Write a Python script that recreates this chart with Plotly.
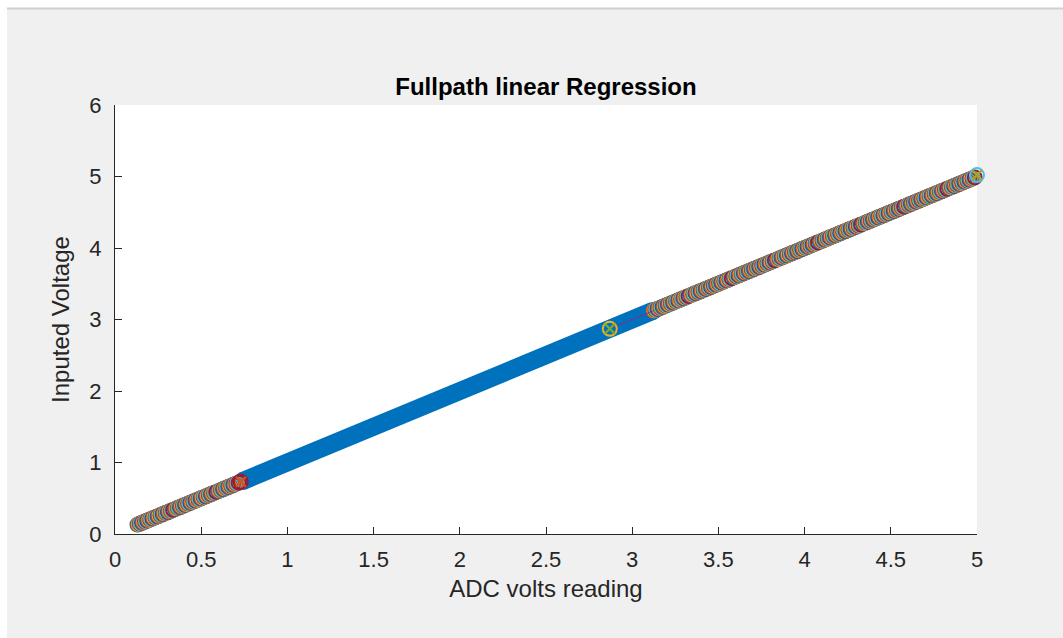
import plotly.graph_objects as go

# ---- data ----
low_x = [0.13, 0.16, 0.19, 0.22, 0.25, 0.28, 0.31, 0.35, 0.38, 0.41,
         0.44, 0.47, 0.50, 0.53, 0.56, 0.60, 0.63, 0.66, 0.69]
low_y = [0.13, 0.16, 0.19, 0.22, 0.25, 0.28, 0.31, 0.35, 0.38, 0.41,
         0.44, 0.47, 0.50, 0.53, 0.56, 0.60, 0.63, 0.66, 0.69]

high_x = [3.12, 3.15, 3.18, 3.21, 3.24, 3.27, 3.30, 3.34, 3.37, 3.40,
          3.43, 3.46, 3.49, 3.52, 3.55, 3.59, 3.62, 3.65, 3.68, 3.71,
          3.74, 3.77, 3.80, 3.84, 3.87, 3.90, 3.93, 3.96, 3.99, 4.02,
          4.05, 4.09, 4.12, 4.15, 4.18, 4.21, 4.24, 4.27, 4.30, 4.34,
          4.37, 4.40, 4.43, 4.46, 4.49, 4.52, 4.55, 4.59, 4.62, 4.65,
          4.68, 4.71, 4.74, 4.77, 4.80, 4.84, 4.87, 4.90, 4.93, 4.96]
high_y = [3.12, 3.15, 3.18, 3.21, 3.24, 3.27, 3.30, 3.34, 3.37, 3.40,
          3.43, 3.46, 3.49, 3.52, 3.55, 3.59, 3.62, 3.65, 3.68, 3.71,
          3.74, 3.77, 3.80, 3.84, 3.87, 3.90, 3.93, 3.96, 3.99, 4.02,
          4.05, 4.09, 4.12, 4.15, 4.18, 4.21, 4.24, 4.27, 4.30, 4.34,
          4.37, 4.40, 4.43, 4.46, 4.49, 4.52, 4.55, 4.59, 4.62, 4.65,
          4.68, 4.71, 4.74, 4.77, 4.80, 4.84, 4.87, 4.90, 4.93, 4.96]

# the seven coloured series are slightly shifted from each other
series_shift = [0.000, 0.0045, 0.009, 0.0135, 0.018, 0.0225, 0.027]

band_x = [0.74, 3.12]
band_y = [0.74, 3.12]

link_x = [2.87, 3.12]
link_y = [2.87, 3.12]

mark1_x = [0.73]
mark1_y = [0.73]
mark2_x = [2.87]
mark2_y = [2.87]
mark3_x = [5.00]
mark3_y = [5.02]

x_ticks = [0, 0.5, 1, 1.5, 2, 2.5, 3, 3.5, 4, 4.5, 5]
y_ticks = [0, 1, 2, 3, 4, 5, 6]

TITLE = "Fullpath linear Regression"
XLABEL = "ADC volts reading"
YLABEL = "Inputed Voltage"

# ---- style ----
MATLAB = ["#0072BD", "#D95319", "#EDB120", "#7E2F8E", "#77AC30", "#4DBEEE", "#A2142F"]
W, H = 1063, 638
ML, MR, MT, MB = 115, 86, 105, 104
PW, PH = W - ML - MR, H - MT - MB
FONT = "Liberation Sans, Arial, Helvetica, sans-serif"
AX = "#262626"


def px2x(px):
    return (px - ML) / PW


def py2y(py):
    return (H - MB - py) / PH


fig = go.Figure()

# thick blue band (rounded ends)
fig.add_trace(go.Scatter(x=band_x, y=band_y, mode="lines+markers",
                         line=dict(color="#0072BD", width=18),
                         marker=dict(symbol="circle", size=18, color="#0072BD",
                                     line=dict(width=0)),
                         hoverinfo="skip", showlegend=False, cliponaxis=False))


# circles: each position carries the seven coloured series
def circles(xs, ys):
    px, py, cols = [], [], []
    for xv, yv in zip(xs, ys):
        for k, s in enumerate(series_shift):
            px.append(xv + s)
            py.append(yv + s)
            cols.append(MATLAB[k])
    fig.add_trace(go.Scatter(x=px, y=py, mode="markers",
                             marker=dict(symbol="circle-open", size=14, color=cols,
                                         line=dict(width=1.8)),
                             showlegend=False, cliponaxis=False))


circles(low_x, low_y)
circles(high_x, high_y)

# thin purple link
fig.add_trace(go.Scatter(x=link_x, y=link_y, mode="lines",
                         line=dict(color="#7E2F8E", width=1), showlegend=False))


def special(xs, ys, ccol, xcol):
    fig.add_trace(go.Scatter(x=xs, y=ys, mode="markers",
                             marker=dict(symbol="circle-open", size=14, color=ccol,
                                         line=dict(width=2)), showlegend=False,
                             cliponaxis=False))
    fig.add_trace(go.Scatter(x=xs, y=ys, mode="markers",
                             marker=dict(symbol="x-thin-open", size=10, color=xcol,
                                         line=dict(width=2.2)), showlegend=False,
                             cliponaxis=False))


special(mark1_x, mark1_y, "#A2142F", "#D95319")
special(mark2_x, mark2_y, "#EDB120", "#77AC30")
special(mark3_x, mark3_y, "#4DBEEE", "#A8A820")

axis_common = dict(showline=True, linecolor=AX, linewidth=1, ticks="inside",
                   ticklen=7, tickcolor=AX, tickwidth=1, showgrid=False,
                   zeroline=False, mirror=False,
                   tickfont=dict(family=FONT, size=22, color=AX))

fig.update_layout(
    width=W, height=H,
    margin=dict(l=ML, r=MR, t=MT, b=MB, pad=0),
    paper_bgcolor="#f0f0f0", plot_bgcolor="#ffffff",
    title=dict(text="<b>" + TITLE + "</b>", x=(ML + PW / 2) / W, xanchor="center",
               y=1 - 87 / H, yanchor="middle",
               font=dict(family=FONT, size=24, color="#000000")),
    xaxis=dict(range=[0, 5], tickvals=x_ticks, ticklabelstandoff=6,
               title=dict(text=XLABEL, standoff=8, font=dict(family=FONT, size=24, color=AX)),
               **axis_common),
    yaxis=dict(range=[0, 6], tickvals=y_ticks, ticklabelstandoff=8,
               title=dict(text=YLABEL, standoff=12, font=dict(family=FONT, size=24, color=AX)),
               **axis_common),
    shapes=[
        dict(type="rect", xref="paper", yref="paper", x0=px2x(0), x1=px2x(W),
             y0=py2y(8), y1=py2y(0), fillcolor="#ffffff", line=dict(width=0), layer="above"),
        dict(type="rect", xref="paper", yref="paper", x0=px2x(0), x1=px2x(7),
             y0=py2y(H), y1=py2y(0), fillcolor="#ffffff", line=dict(width=0), layer="above"),
        dict(type="line", xref="paper", yref="paper", x0=px2x(7), x1=px2x(W),
             y0=py2y(8.5), y1=py2y(8.5), line=dict(color="#d0d0d0", width=2), layer="above"),
    ],
)

fig.write_html("out.html")
